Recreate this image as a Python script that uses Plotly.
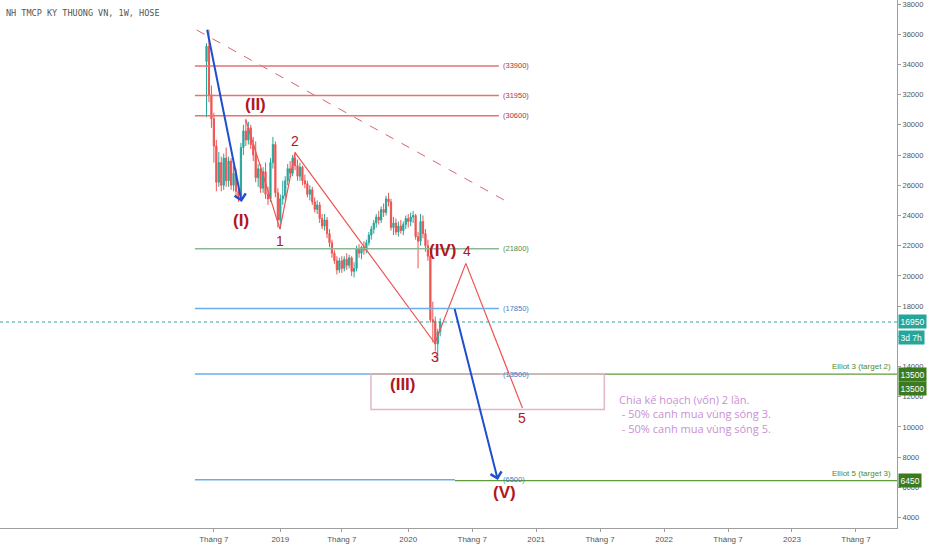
import pandas as pd
import plotly.graph_objects as go

# weekly bars (TCB, HOSE), first week 2018-06-11
WEEK_START = "2018-06-11"
OPEN = [34200, 35200, 32000, 30400, 28600, 26200, 27500, 26000, 27800, 26300,
        27600, 26000, 26800, 25600, 25300, 28500, 29600, 29000, 29800, 28700,
        28000, 26500, 27100, 25800, 26900, 25400, 25100, 27500, 28700, 25500,
        23700, 25100, 25300, 26300, 27100, 26800, 27800, 27300, 26600, 27200,
        26300, 26100, 25400, 25700, 24900, 24400, 24700, 23800, 23300, 23700,
        22800, 22200, 21500, 21000, 20400, 21000, 20500, 21100, 20700, 21200,
        20300, 20500, 21800, 21500, 21900, 21700, 22200, 22700, 23100, 23500,
        23900, 23700, 24400, 24200, 25100, 24900, 23200, 23500, 22900, 23300,
        23000, 23400, 23800, 23600, 23900, 24000, 22600, 22300, 23600, 22800,
        22000, 21300, 17100, 17000, 15500, 16300]
HIGH = [35400, 36300, 32600, 30800, 29000, 28200, 27900, 28100, 28500, 27900,
        27800, 27300, 27100, 26100, 28800, 30000, 30400, 30200, 30000, 29200,
        28900, 27400, 27400, 27200, 27500, 25900, 27800, 29200, 28900, 25800,
        25400, 26300, 26600, 27400, 27600, 28000, 28200, 27700, 27500, 27300,
        26700, 26300, 26000, 25900, 25200, 25000, 24900, 24100, 24100, 23900,
        23100, 22400, 21700, 21300, 21200, 21300, 21300, 21500, 21400, 21300,
        20900, 22000, 22100, 22000, 22300, 22400, 22900, 23300, 23700, 24100,
        24300, 24600, 24800, 25300, 25500, 25100, 23900, 23800, 23600, 23700,
        23600, 24000, 24100, 24200, 24300, 24100, 22900, 24100, 24000, 23100,
        22400, 21400, 18300, 17300, 16500, 17200]
LOW = [30500, 31500, 29800, 27500, 25600, 25900, 25600, 25700, 25900, 25900,
       25700, 25600, 25200, 24900, 25100, 28000, 28600, 28700, 28400, 27600,
       26200, 25900, 25500, 25500, 25100, 24700, 24900, 27100, 25200, 23200,
       23100, 24700, 25000, 26000, 26500, 26600, 27000, 26300, 26300, 26000,
       25800, 25200, 25000, 24700, 24200, 24100, 23500, 23100, 23000, 22500,
       21900, 21200, 20800, 20100, 20200, 20200, 20300, 20400, 20500, 20000,
       19900, 20300, 21200, 21100, 21400, 21500, 22000, 22400, 22800, 23200,
       23400, 23500, 23900, 24000, 24600, 23000, 22700, 22700, 22600, 22800,
       22700, 23100, 23200, 23300, 23500, 22400, 20500, 22000, 22500, 21600,
       21000, 16900, 15600, 15000, 14300, 16000]
CLOSE = [35200, 32000, 30400, 28600, 26200, 27500, 26000, 27800, 26300, 27600,
         26000, 26800, 25600, 25300, 28500, 29600, 29000, 29800, 28700, 28000,
         26500, 27100, 25800, 26900, 25400, 25100, 27500, 28700, 25500, 23700,
         25100, 25300, 26300, 27100, 26800, 27800, 27300, 26600, 27200, 26300,
         26100, 25400, 25700, 24900, 24400, 24700, 23800, 23300, 23700, 22800,
         22200, 21500, 21000, 20400, 21000, 20500, 21100, 20700, 21200, 20300,
         20500, 21800, 21500, 21900, 21700, 22200, 22700, 23100, 23500, 23900,
         23700, 24400, 24200, 25100, 24900, 23200, 23500, 22900, 23300, 23000,
         23400, 23800, 23600, 23900, 24000, 22600, 22300, 23600, 22800, 22000,
         21300, 17100, 17000, 15500, 16300, 16950]
LAST_PRICE = 16950

# horizontal levels drawn on the chart
LEVEL_PRICES = [33900, 31950, 30600, 21800, 17850, 13500, 6500]
LEVEL_LINE = ["#e57373", "#e57373", "#e57373", "#8db894", "#6aaee8", "#6aaee8", "#6aaee8"]
LEVEL_TEXT = ["#b0303b", "#b0303b", "#b0303b", "#4c8c4a", "#3d80c6", "#3d80c6", "#3d80c6"]
LEVEL_FROM = "2018-05-09"
LEVEL_TO = ["2020-09-20"] * 6 + ["2020-05-18"]
LEVEL_LABEL_AT = "2020-09-27"

TARGET_PRICES = [13500, 6450]
TARGET_NAMES = ["Elliot 3 (target 2)", "Elliot 5 (target 3)"]
TARGET_FROM = ["2019-09-22", "2020-05-18"]

# dashed down-trend line
TREND_DATES = ["2018-05-14", "2020-10-05"]
TREND_PRICES = [36280, 25020]

# red sub-wave zigzag (II)-1-2-3-4-5
ZZ_DATES = ["2018-10-01", "2019-01-06", "2019-02-18", "2020-03-22", "2020-06-18", "2020-11-26"]
ZZ_PRICES = [30320, 23100, 28160, 15540, 20830, 11250]

# blue arrows: tail -> head
ARROW_TAIL_DATES = ["2018-06-12", "2020-05-16"]
ARROW_TAIL_PRICES = [36390, 17900]
ARROW_HEAD_DATES = ["2018-09-19", "2020-09-17"]
ARROW_HEAD_PRICES = [24900, 6490]

# buy zone box
BOX_DATES = ["2019-09-22", "2021-07-17"]
BOX_PRICES = [13500, 11150]

WAVE_TEXT = ["(I)", "(II)", "(III)", "(IV)", "(V)", "1", "2", "3", "4", "5"]
WAVE_DATES = ["2018-09-17", "2018-10-28", "2019-12-22", "2020-04-13", "2020-10-05",
              "2019-01-06", "2019-02-17", "2020-03-22", "2020-06-20", "2020-11-26"]
WAVE_PRICES = [23700, 31380, 12840, 21715, 5630, 22310, 28930, 14630, 21650, 10590]

NOTE_LINES = ["Chia kế hoạch (vốn) 2 lần.",
              " - 50% canh mua vùng sóng 3.",
              " - 50% canh mua vùng sóng 5."]
NOTE_DATE = "2021-08-23"
NOTE_PRICE = 12450

X_TICKS = ["2018-07-02", "2019-01-07", "2019-07-01", "2020-01-06", "2020-07-06",
           "2021-01-04", "2021-07-05", "2022-01-03", "2022-07-04", "2023-01-02", "2023-07-03"]
X_TEXT = ["Tháng 7", "2019", "Tháng 7", "2020", "Tháng 7", "2021",
          "Tháng 7", "2022", "Tháng 7", "2023", "Tháng 7"]
X_RANGE = ["2016-10-31 10:00", "2023-10-27 19:00"]
Y_RANGE = [3311, 38265]

TEAL = "#26a69a"
DARK_GREEN = "#3b7a1f"
RED = "#ef5350"
WAVE_RED = "#b0171f"
BLUE = "#1f4fcf"

weeks = pd.date_range(WEEK_START, periods=len(CLOSE), freq="7D")

fig = go.Figure()
fig.add_trace(go.Candlestick(
    x=weeks, open=OPEN, high=HIGH, low=LOW, close=CLOSE,
    increasing=dict(line=dict(color=TEAL, width=1), fillcolor=TEAL),
    decreasing=dict(line=dict(color=RED, width=1), fillcolor=RED),
    whiskerwidth=0, hoverinfo="skip",
))

# levels with their bracket labels
for price, lc, tc, end in zip(LEVEL_PRICES, LEVEL_LINE, LEVEL_TEXT, LEVEL_TO):
    fig.add_shape(type="line", x0=LEVEL_FROM, x1=end, y0=price, y1=price,
                  line=dict(color=lc, width=1.5))
    fig.add_annotation(x=LEVEL_LABEL_AT, y=price, text=f"({price})", showarrow=False,
                       xanchor="left", yanchor="middle",
                       font=dict(size=7.5, color=tc, family="Liberation Sans"))

# elliot targets running to the price scale
for price, name, start in zip(TARGET_PRICES, TARGET_NAMES, TARGET_FROM):
    fig.add_shape(type="line", x0=start, x1=X_RANGE[1], y0=price, y1=price,
                  line=dict(color="#5f9a3a", width=1.2))
    fig.add_annotation(x=0.995, xref="paper", y=price, text=name, showarrow=False,
                       xanchor="right", yanchor="bottom", yshift=1,
                       font=dict(size=8, color="#4f8a2c", family="Liberation Sans"))

fig.add_shape(type="rect", x0=BOX_DATES[0], x1=BOX_DATES[1], y0=BOX_PRICES[1], y1=BOX_PRICES[0],
              line=dict(color="#e3b5c8", width=1.5), fillcolor="rgba(255,255,255,0)")

fig.add_shape(type="line", xref="paper", x0=0, x1=1, y0=LAST_PRICE, y1=LAST_PRICE,
              line=dict(color=TEAL, width=1, dash="dot"))

fig.add_trace(go.Scatter(x=TREND_DATES, y=TREND_PRICES, mode="lines", hoverinfo="skip",
                         line=dict(color="#d9646e", width=1, dash="dash")))
fig.add_trace(go.Scatter(x=ZZ_DATES, y=ZZ_PRICES, mode="lines", hoverinfo="skip",
                         line=dict(color=RED, width=1.2)))

for tx, ty, hx, hy in zip(ARROW_TAIL_DATES, ARROW_TAIL_PRICES, ARROW_HEAD_DATES, ARROW_HEAD_PRICES):
    fig.add_annotation(x=hx, y=hy, ax=tx, ay=ty, axref="x", ayref="y", text="",
                       showarrow=True, arrowhead=4, arrowsize=1.1, arrowwidth=2,
                       arrowcolor=BLUE)

for txt, d, p in zip(WAVE_TEXT, WAVE_DATES, WAVE_PRICES):
    big = txt.startswith("(")
    fig.add_annotation(x=d, y=p, text=f"<b>{txt}</b>" if big else txt, showarrow=False,
                       font=dict(size=17 if big else 14, color=WAVE_RED,
                                 family="Liberation Sans"))

fig.add_annotation(x=NOTE_DATE, y=NOTE_PRICE, text="<br>".join(NOTE_LINES), showarrow=False,
                   xanchor="left", yanchor="top", align="left",
                   font=dict(size=11, color="#c98fd4", family="Open Sans"))

# tags on the price scale
TAGS = [("16950", LAST_PRICE, TEAL, 0), ("3d 7h", LAST_PRICE, TEAL, -16),
        ("13500", 13500, DARK_GREEN, 0), ("13500", 13500, DARK_GREEN, -14),
        ("6450", 6450, DARK_GREEN, 0)]
for txt, p, col, shift in TAGS:
    fig.add_annotation(x=1, xref="paper", y=p, yshift=shift, text=txt, showarrow=False,
                       xanchor="left", yanchor="middle", bgcolor=col, borderpad=1.5,
                       xshift=1, font=dict(size=8.5, color="white", family="Liberation Sans"))

fig.add_annotation(x=0.005, xref="paper", y=1, yref="paper", yshift=-13,
                   text="NH TMCP KY THUONG VN, 1W, HOSE", showarrow=False,
                   xanchor="left", yanchor="middle",
                   font=dict(size=8.5, color="#555555", family="DejaVu Sans Mono"))

fig.update_layout(
    width=932, height=550,
    margin=dict(l=0, r=35, t=0, b=22),
    paper_bgcolor="white", plot_bgcolor="white",
    showlegend=False, hovermode=False,
    xaxis=dict(range=X_RANGE, type="date", rangeslider=dict(visible=False),
               tickvals=X_TICKS, ticktext=X_TEXT, showgrid=False, zeroline=False,
               showline=True, linecolor="#9e9e9e", linewidth=1,
               ticks="outside", ticklen=3, tickcolor="#9e9e9e",
               tickfont=dict(size=8, color="#555555", family="Liberation Sans")),
    yaxis=dict(range=Y_RANGE, side="right", dtick=2000, tick0=0, tickformat="d",
               ticklabeloverflow="allow",
               showgrid=False, zeroline=False, showline=True, linecolor="#9e9e9e",
               linewidth=1, ticks="outside", ticklen=3, tickcolor="#9e9e9e",
               tickfont=dict(size=7.5, color="#555555", family="Liberation Sans")),
)

fig.write_html("out.html", config={"displayModeBar": False},
               post_script="document.body.style.margin='0px';")
